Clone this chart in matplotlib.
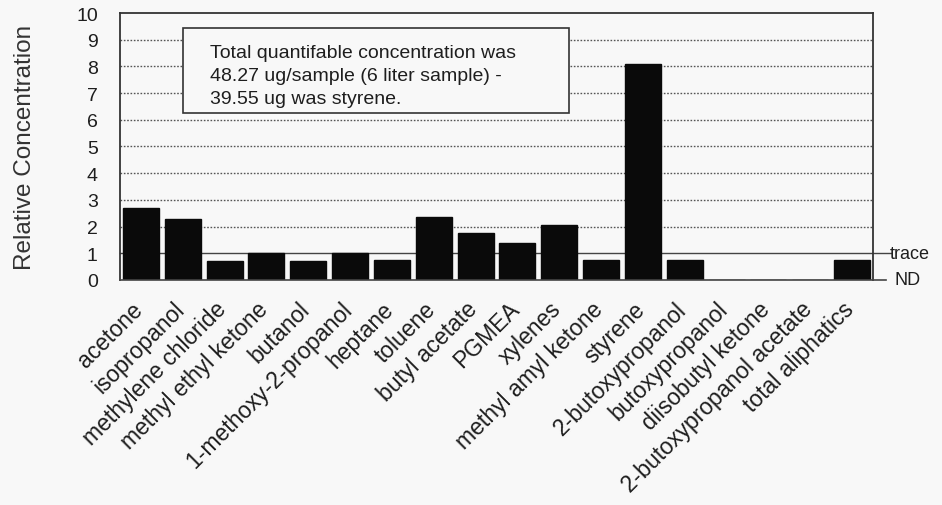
import matplotlib.pyplot as plt
from matplotlib.patches import Rectangle
from matplotlib.transforms import ScaledTranslation

compuestos = ['acetone', 'isopropanol', 'methylene chloride', 'methyl ethyl ketone',
              'butanol', '1-methoxy-2-propanol', 'heptane', 'toluene', 'butyl acetate',
              'PGMEA', 'xylenes', 'methyl amyl ketone', 'styrene', '2-butoxypropanol',
              'butoxypropanol', 'diisobutyl ketone', '2-butoxypropanol acetate',
              'total aliphatics']
concentracion = [2.7, 2.3, 0.7, 1.0, 0.7, 1.0, 0.75, 2.35, 1.75, 1.38, 2.05, 0.75,
                 8.1, 0.75, 0, 0, 0, 0.75]
y_ticks = list(range(0, 11))
nivel_trace = 1
nota = ('Total quantifable concentration was\n'
        '48.27 ug/sample (6 liter sample) -\n'
        '39.55 ug was styrene.')

plt.rcParams['font.family'] = ['Liberation Sans', 'DejaVu Sans']
tinta = '#1e1e1e'
fondo = '#f8f8f8'

fig = plt.figure(figsize=(9.42, 5.06), dpi=100, facecolor=fondo)
ax = fig.add_axes([0.1274, 0.4447, 0.7994, 0.5276], facecolor=fondo)

pos = list(range(len(compuestos)))
ax.bar(pos, concentracion, width=0.86, color='#0a0a0a', edgecolor='#0a0a0a', zorder=3)

# lineas punteadas de 2 a 9
for v in y_ticks[2:10]:
    ax.axhline(v, color='#555555', ls=(0, (1.2, 1.2)), lw=1.0, zorder=1)

# linea de trace y ND, se salen del eje
ax.plot([-0.5, 17.92], [nivel_trace, nivel_trace], color='#444444', lw=1.0,
        clip_on=False, zorder=2)
ax.plot([-0.5, 17.8], [0, 0], color='#444444', lw=1.2, clip_on=False, zorder=4)
ax.text(17.9, nivel_trace, 'trace', fontsize=13, color=tinta, va='center', ha='left')
ax.text(18.02, 0, 'ND', fontsize=13, color=tinta, va='center', ha='left')

ax.set_xlim(-0.5, 17.5)
ax.set_ylim(0, 10)
ax.set_yticks(y_ticks)
ax.set_yticklabels([str(t) for t in y_ticks], fontsize=14, color=tinta)
ax.tick_params(axis='y', length=0, pad=16)
ax.set_xticks(pos)
ax.set_xticklabels(compuestos, rotation=45, ha='right', rotation_mode='anchor',
                   fontsize=16.5, color=tinta)
ax.tick_params(axis='x', length=0, pad=8)
desplaza = ScaledTranslation(-10 / 100, -6 / 100, fig.dpi_scale_trans)
for lab in ax.get_xticklabels():
    lab.set_transform(lab.get_transform() + desplaza)
ax.spines['bottom'].set_visible(False)
for s in ['left', 'top', 'right']:
    ax.spines[s].set_color('#333333')
    ax.spines[s].set_linewidth(1.3)

ax.set_ylabel('Relative Concentration', fontsize=17.5, color='#333333', labelpad=29)

# recuadro con la nota
ax.add_patch(Rectangle((1.0, 6.24), 9.24, 3.19, facecolor=fondo, edgecolor='#333333',
                       lw=1.2, zorder=5))
ax.text(1.65, 7.67, nota, fontsize=14, color=tinta, va='center', ha='left',
        linespacing=1.45, zorder=6)

fig.savefig('out.png', dpi=100, facecolor=fondo)
